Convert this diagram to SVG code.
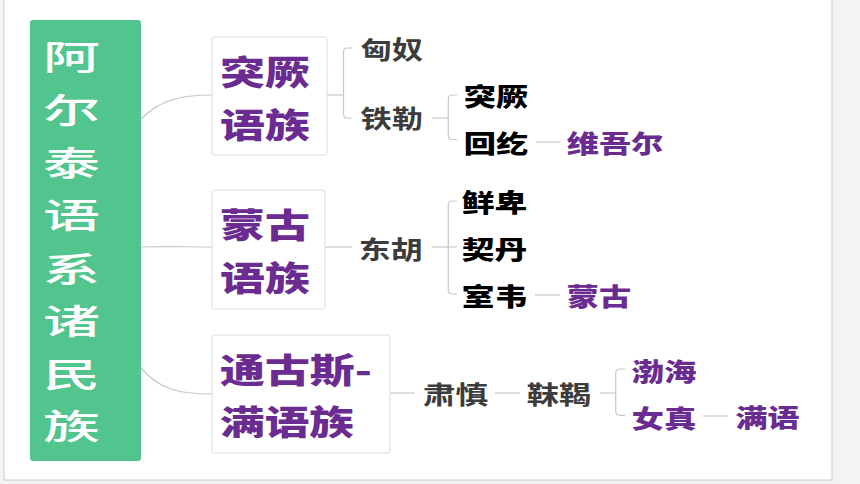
<svg xmlns="http://www.w3.org/2000/svg" width="860" height="484" viewBox="0 0 860 484">
<style>
text{font-family:"Noto Sans CJK SC","Noto Sans CJK TC",sans-serif;dominant-baseline:central}
.g{fill:#ffffff;font-size:34px;font-weight:500}
.b{fill:#6a2c91;font-size:34px;font-weight:900}
.k{fill:#000000;font-size:25px;font-weight:900}
.d{fill:#3c3c3c;font-size:25px;font-weight:700}
.p{fill:#6a2c91;font-size:25px;font-weight:900}
.box{fill:#ffffff;stroke:#dcdcdc;stroke-width:1}
.ln{fill:none;stroke:#c8c8c8;stroke-width:1.2}
</style>
<rect x="0" y="0" width="860" height="484" fill="#f3f3f3"/>
<rect x="4" y="-1" width="828" height="481" fill="#ffffff" stroke="#cccccc" stroke-width="1"/>
<g id="connectors">
<path class="ln" d="M141,119 C160,100 180,95 212,95"/>
<path class="ln" d="M141,247 C170,246 185,247 212,247"/>
<path class="ln" d="M141,368 C160,390 180,394 212,394"/>
<path class="ln" d="M327,95 H343.5"/>
<path class="ln" d="M352,48 H347.5 Q343.5,48 343.5,52 V114 Q343.5,118 347.5,118 H352"/>
<path class="ln" d="M431.5,118 H448.3"/>
<path class="ln" d="M457,95 H452.3 Q448.3,95 448.3,99 V135.5 Q448.3,139.5 452.3,139.5 H457"/>
<path class="ln" d="M536,142 H560.5"/>
<path class="ln" d="M325,247 H352"/>
<path class="ln" d="M431.5,247 H457"/>
<path class="ln" d="M457,201 H452.3 Q448.3,201 448.3,205 V290 Q448.3,294 452.3,294 H457"/>
<path class="ln" d="M535,295 H560"/>
<path class="ln" d="M390,393 H415"/>
<path class="ln" d="M495,393 H520"/>
<path class="ln" d="M600,393 H615.7"/>
<path class="ln" d="M625,369 H619.7 Q615.7,369 615.7,373 V411.3 Q615.7,415.3 619.7,415.3 H625"/>
<path class="ln" d="M703,416 H728"/>
</g>
<g id="root">
<rect x="30" y="20" width="111" height="441" rx="3" fill="#52c48d"/>
<text class="g" x="43" y="55" textLength="57" lengthAdjust="spacingAndGlyphs">阿</text>
<text class="g" x="43" y="108" textLength="57" lengthAdjust="spacingAndGlyphs">尔</text>
<text class="g" x="43" y="161" textLength="57" lengthAdjust="spacingAndGlyphs">泰</text>
<text class="g" x="43" y="213" textLength="57" lengthAdjust="spacingAndGlyphs">语</text>
<text class="g" x="43" y="267" textLength="57" lengthAdjust="spacingAndGlyphs">系</text>
<text class="g" x="43" y="319" textLength="57" lengthAdjust="spacingAndGlyphs">诸</text>
<text class="g" x="43" y="372" textLength="57" lengthAdjust="spacingAndGlyphs">民</text>
<text class="g" x="43" y="424" textLength="57" lengthAdjust="spacingAndGlyphs">族</text>
</g>
<g id="turkic">
<rect class="box" x="212" y="37" width="115" height="118" rx="3"/>
<text class="b" x="220" y="70" textLength="90" lengthAdjust="spacingAndGlyphs">突厥</text>
<text class="b" x="220" y="123" textLength="90" lengthAdjust="spacingAndGlyphs">语族</text>
</g>
<g id="mongolic">
<rect class="box" x="212" y="190" width="113" height="119" rx="3"/>
<text class="b" x="220" y="223" textLength="90" lengthAdjust="spacingAndGlyphs">蒙古</text>
<text class="b" x="220" y="276" textLength="90" lengthAdjust="spacingAndGlyphs">语族</text>
</g>
<g id="tungusic">
<rect class="box" x="212" y="335" width="178" height="118" rx="3"/>
<text class="b" x="220" y="368" textLength="152" lengthAdjust="spacingAndGlyphs">通古斯-</text>
<text class="b" x="220" y="420" textLength="134" lengthAdjust="spacingAndGlyphs">满语族</text>
</g>
<g id="xiongnu"><text class="d" x="360.5" y="47.5" textLength="62.5" lengthAdjust="spacingAndGlyphs">匈奴</text></g>
<g id="tiele"><text class="d" x="360.5" y="117" textLength="62.5" lengthAdjust="spacingAndGlyphs">铁勒</text></g>
<g id="tujue"><text class="k" x="463.7" y="94.5" textLength="64.5" lengthAdjust="spacingAndGlyphs">突厥</text></g>
<g id="huihe"><text class="k" x="463.7" y="141.5" textLength="64.5" lengthAdjust="spacingAndGlyphs">回纥</text></g>
<g id="uyghur"><text class="p" x="566.7" y="141.5" textLength="96.6" lengthAdjust="spacingAndGlyphs">维吾尔</text></g>
<g id="donghu"><text class="d" x="358.8" y="247.5" textLength="64" lengthAdjust="spacingAndGlyphs">东胡</text></g>
<g id="xianbei"><text class="k" x="461.7" y="200.5" textLength="65.5" lengthAdjust="spacingAndGlyphs">鲜卑</text></g>
<g id="qidan"><text class="k" x="461.7" y="248" textLength="65.5" lengthAdjust="spacingAndGlyphs">契丹</text></g>
<g id="shiwei"><text class="k" x="461.7" y="294.5" textLength="65.5" lengthAdjust="spacingAndGlyphs">室韦</text></g>
<g id="menggu"><text class="p" x="566.7" y="294.5" textLength="64.5" lengthAdjust="spacingAndGlyphs">蒙古</text></g>
<g id="sushen"><text class="d" x="422.7" y="392.5" textLength="65.5" lengthAdjust="spacingAndGlyphs">肃慎</text></g>
<g id="mohe"><text class="d" x="526.7" y="392.5" textLength="64.5" lengthAdjust="spacingAndGlyphs">靺鞨</text></g>
<g id="bohai"><text class="p" x="631.4" y="369.5" textLength="65" lengthAdjust="spacingAndGlyphs">渤海</text></g>
<g id="nvzhen"><text class="p" x="631.4" y="416.5" textLength="65" lengthAdjust="spacingAndGlyphs">女真</text></g>
<g id="manyu"><text class="p" x="735.4" y="415.5" textLength="64" lengthAdjust="spacingAndGlyphs">满语</text></g>
</svg>
